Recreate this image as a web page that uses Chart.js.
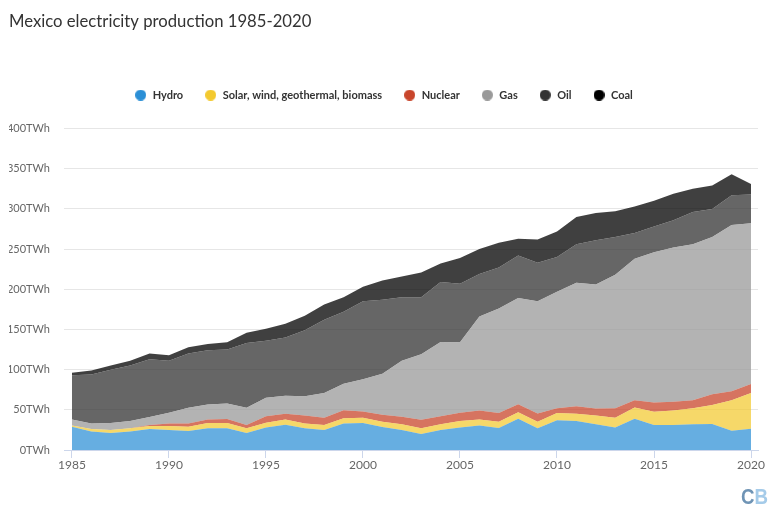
<!DOCTYPE html>
<html>
<head>
<meta charset="utf-8">
<style>
html,body{margin:0;padding:0;background:#fff}
#wrap{position:relative;width:780px;height:525px;overflow:hidden}
#logo{position:absolute;left:741px;top:486px;font:bold 22px "Liberation Sans Narrow",sans-serif;line-height:22px;transform:scaleX(.85);transform-origin:left top;white-space:nowrap}
</style>
<script src="https://cdn.jsdelivr.net/npm/chart.js@4/dist/chart.umd.min.js"></script>
</head>
<body>
<div id="wrap">
<canvas id="c" width="780" height="525" style="width:780px;height:525px;display:block"></canvas>
<div id="logo"><span style="color:#6f94b5">C</span><span style="color:#a5cbe9">B</span></div>
</div>
<script>
const years = [1985,1986,1987,1988,1989,1990,1991,1992,1993,1994,1995,1996,1997,1998,1999,2000,2001,2002,2003,2004,2005,2006,2007,2008,2009,2010,2011,2012,2013,2014,2015,2016,2017,2018,2019,2020];
const hydro = [29,23,21,23,26,25,23.5,27,27,21,28,31.5,27,25,33,33.5,28.5,25,20,25,28,30.5,27.5,39,27,37,36,32,28,39,31,31,32,32.5,24,26.5];
const renewables = [1.5,3,4,4,4,5,5.5,6.5,6.5,6,6,6.5,6,6,6.5,6.5,6.5,7,7,7,8,7.5,7.5,8,8,9,9,11,12,14,16.5,18,20,23.5,38,44.5];
const nuclear = [0,0,0,0,1,3,4,4.5,5,4,8,7,10,9,10,8,9,9.5,10.5,10,10.5,11,11,10,10.5,6,9.5,8.5,12,9,11.5,11,10,13.5,11,11];
const gas = [7.5,7,8.5,9,10,13.5,19.5,18.5,19.5,21.5,23,22.5,24,31,33,40,51,69.5,81.5,92.5,87.5,117,130,132,139.5,145,153.5,154.5,166,176,187,192,194,195.5,207,200];
const oil = [55,61,66.5,69,72,64.5,67.5,67.5,67,80.5,71,72.5,82,91,89.5,97,92,79,71,74.5,73,53,51,53,48,43,48,55,47,32,32,34,40,35,37,36];
const coal = [3,5,5,6,7,7,8,8,9,13,15,17,18,19,18,18,24,26,31,23,32,31,31,21,29,32,34,34,32,33,32,33,29,29,26,13];
const seriesNames = ['Hydro','Solar, wind, geothermal, biomass','Nuclear','Gas','Oil','Coal'];
const seriesColors = ['#2b8fd6','#f3c92f','#c8452b','#999999','#333333','#000000'];
const seriesFills = ['rgba(43,143,214,0.72)','rgba(243,201,47,0.72)','rgba(200,69,43,0.75)','rgba(153,153,153,0.75)','rgba(51,51,51,0.75)','rgba(0,0,0,0.75)'];
const seriesValues = [hydro,renewables,nuclear,gas,oil,coal];

function dot(color){
  const cv=document.createElement('canvas');
  cv.width=11;cv.height=11;
  const g=cv.getContext('2d');
  g.fillStyle=color;
  g.beginPath();g.arc(5.5,5.5,5.5,0,Math.PI*2);g.fill();
  return cv;
}
const dots=seriesColors.map(dot);

const legendGap={
  id:'legendGap',
  beforeLayout(chart){
    const lg=chart.legend;
    if(lg && !lg._gapPatched){
      lg._gapPatched=true;
      const fit=lg.fit;
      lg.fit=function(){fit.call(this);this.height+=18;};
    }
  }
};

new Chart(document.getElementById('c'),{
  type:'line',
  plugins:[legendGap],
  data:{
    datasets:seriesValues.map((vals,i)=>({
      label:seriesNames[i],
      data:vals.map((v,j)=>({x:years[j],y:v})),
      backgroundColor:seriesFills[i],
      borderWidth:0,
      pointRadius:0,
      tension:0,
      fill:i===0?'origin':'-1'
    }))
  },
  options:{
    responsive:false,
    animation:false,
    layout:{padding:{left:9,right:22,top:0,bottom:51}},
    plugins:{
      tooltip:{enabled:false},
      title:{
        display:true,text:'Mexico electricity production 1985-2020',align:'start',
        color:'#333333',font:{family:'Lato',size:16.7,weight:'normal'},
        padding:{top:12,bottom:36.5}
      },
      legend:{
        display:true,position:'top',align:'center',
        onClick:null,
        labels:{
          usePointStyle:true,pointStyleWidth:13,boxHeight:11,
          color:'#333333',font:{family:'Lato',size:11,weight:'bold'},padding:21,
          generateLabels:()=>seriesNames.map((n,i)=>({text:n,fillStyle:seriesColors[i],strokeStyle:seriesColors[i],lineWidth:0,pointStyle:dots[i],datasetIndex:i,fontColor:'#333333'}))
        }
      }
    },
    scales:{
      x:{
        type:'linear',min:1984.59,max:2020.36,
        grid:{drawOnChartArea:false,drawTicks:true,tickLength:8,tickColor:'#ccd6eb'},
        border:{color:'#ccd6eb',width:1},
        ticks:{stepSize:5,includeBounds:false,maxRotation:0,color:'#666666',font:{family:'Lato',size:12},padding:0,callback:v=>String(v)},
        afterFit:s=>{s.height=24}
      },
      y:{
        stacked:true,min:0,max:400,
        grid:{color:'#e6e6e6',lineWidth:1,drawTicks:false},
        border:{display:false},
        ticks:{stepSize:50,color:'#666666',font:{family:'Lato',size:11},padding:14,callback:v=>v+'TWh'},
        afterFit:s=>{s.width=55}
      }
    }
  }
});
</script>
</body>
</html>
